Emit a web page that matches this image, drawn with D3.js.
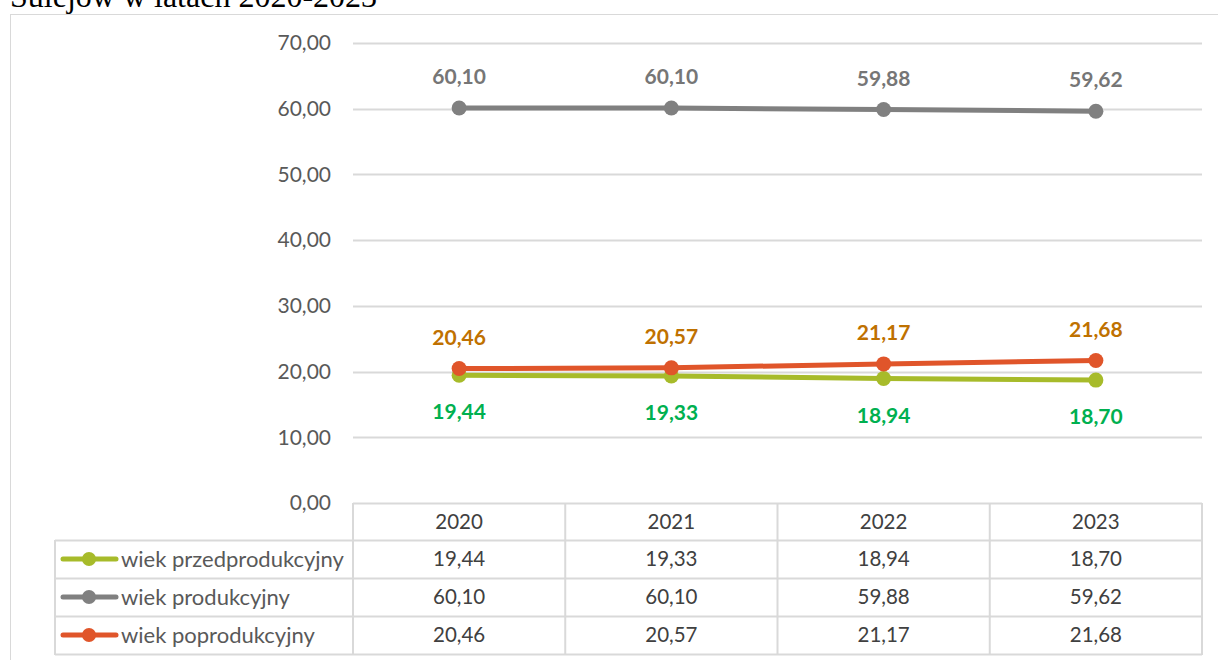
<!DOCTYPE html>
<html>
<head>
<meta charset="utf-8">
<script src="https://cdn.jsdelivr.net/npm/d3@7"></script>
<style>
  body { margin: 0; background: #fff; }
  svg { display: block; }
  text { font-family: Lato, "Open Sans", sans-serif; }
</style>
</head>
<body>
<svg id="chart" width="1218" height="660"></svg>
<script>
// data
let years = ['2020', '2021', '2022', '2023'];
let przedprodukcyjny = [19.44, 19.33, 18.94, 18.70];
let produkcyjny = [60.10, 60.10, 59.88, 59.62];
let poprodukcyjny = [20.46, 20.57, 21.17, 21.68];
let seriesNames = ['wiek przedprodukcyjny', 'wiek produkcyjny', 'wiek poprodukcyjny'];
let yTicks = [0, 10, 20, 30, 40, 50, 60, 70];

let series = [
  { name: seriesNames[0], values: przedprodukcyjny, color: '#a7bb2a', label: '#00b050', pos: 'below' },
  { name: seriesNames[1], values: produkcyjny, color: '#808080', label: '#767676', pos: 'above' },
  { name: seriesNames[2], values: poprodukcyjny, color: '#e0552a', label: '#bf7100', pos: 'above' }
];

let pl = d3.formatLocale({ decimal: ',', thousands: ' ', grouping: [3], currency: ['', ' zł'] });
let fmt = pl.format('.2f');

let plot = { left: 353, right: 1202, top: 43, bottom: 503 };
let rowH = 38;
let headH = 37;
let tableLeft = 55;

let svg = d3.select('#chart');

// chart frame
svg.append('rect')
  .attr('x', 10.5).attr('y', 14.5)
  .attr('width', 1230).attr('height', 700)
  .attr('fill', 'none').attr('stroke', '#d9d9d9').attr('stroke-width', 1);

// title, cut off by the page top as in the source
svg.append('text')
  .attr('x', 10).attr('y', 7)
  .style('font-family', '"Liberation Serif", "Times New Roman", serif')
  .attr('font-size', 32)
  .attr('fill', '#000')
  .text('Sulejów w latach 2020-2023');

let x = d3.scaleBand().domain(years).range([plot.left, plot.right]).paddingInner(0).paddingOuter(0);
let y = d3.scaleLinear().domain([0, 70]).range([plot.bottom, plot.top]);
let cx = d => x(d) + x.bandwidth() / 2;

// grid
svg.append('g').selectAll('line')
  .data(yTicks)
  .enter().append('line')
  .attr('x1', plot.left).attr('x2', plot.right)
  .attr('y1', d => Math.round(y(d)) + 0.5).attr('y2', d => Math.round(y(d)) + 0.5)
  .attr('stroke', '#d9d9d9').attr('stroke-width', 2);

// y labels
svg.append('g').selectAll('text')
  .data(yTicks)
  .enter().append('text')
  .attr('x', 331)
  .attr('y', d => y(d))
  .attr('dy', '0.35em')
  .attr('text-anchor', 'end')
  .attr('font-size', 21)
  .attr('fill', '#595959')
  .text(d => fmt(d));

// lines + markers
let line = d3.line().x((d, i) => cx(years[i])).y(d => y(d));

series.forEach(s => {
  svg.append('path')
    .attr('d', line(s.values))
    .attr('fill', 'none')
    .attr('stroke', s.color)
    .attr('stroke-width', 5)
    .attr('stroke-linecap', 'round');
});
series.forEach(s => {
  svg.append('g').selectAll('circle')
    .data(s.values)
    .enter().append('circle')
    .attr('cx', (d, i) => cx(years[i]))
    .attr('cy', d => y(d))
    .attr('r', 7.5)
    .attr('fill', s.color);
});

// data labels
series.forEach(s => {
  svg.append('g').selectAll('text')
    .data(s.values)
    .enter().append('text')
    .attr('x', (d, i) => cx(years[i]))
    .attr('y', d => s.pos === 'above' ? y(d) - 24 : y(d) + 44)
    .attr('text-anchor', 'middle')
    .attr('font-size', 21)
    .attr('font-weight', 'bold')
    .attr('fill', s.label)
    .text(d => fmt(d));
});

// data table
let tbl = svg.append('g');
let rowTop = i => plot.bottom + headH + i * rowH;
let tableBottom = rowTop(series.length);
let gridCol = '#d9d9d9';

function cellText(g, tx, ty, str) {
  g.append('text')
    .attr('x', tx).attr('y', ty)
    .attr('dy', '0.35em')
    .attr('text-anchor', 'middle')
    .attr('font-size', 20.5)
    .attr('fill', '#404040')
    .text(str);
}

[0, 1, 2, 3].forEach(i => {
  tbl.append('line')
    .attr('x1', tableLeft).attr('x2', plot.right)
    .attr('y1', rowTop(i) + 0.5).attr('y2', rowTop(i) + 0.5)
    .attr('stroke', gridCol).attr('stroke-width', 2);
});
tbl.append('line')
  .attr('x1', tableLeft).attr('x2', tableLeft)
  .attr('y1', rowTop(0)).attr('y2', tableBottom + 1)
  .attr('stroke', gridCol).attr('stroke-width', 2);
tbl.selectAll('.vcol')
  .data(years.map(d => x(d)).concat([plot.right]))
  .enter().append('line')
  .attr('x1', d => d).attr('x2', d => d)
  .attr('y1', plot.bottom).attr('y2', tableBottom + 1)
  .attr('stroke', gridCol).attr('stroke-width', 2);

years.forEach(d => cellText(tbl, cx(d), plot.bottom + headH / 2, d));

series.forEach((s, r) => {
  let mid = rowTop(r) + rowH / 2;
  // legend key
  tbl.append('line')
    .attr('x1', 63).attr('x2', 116)
    .attr('y1', mid).attr('y2', mid)
    .attr('stroke', s.color).attr('stroke-width', 5).attr('stroke-linecap', 'round');
  tbl.append('circle')
    .attr('cx', 89).attr('cy', mid).attr('r', 7)
    .attr('fill', s.color);
  tbl.append('text')
    .attr('x', 121).attr('y', mid)
    .attr('dy', '0.35em')
    .attr('font-size', 22)
    .attr('fill', '#595959')
    .text(s.name);
  s.values.forEach((d, i) => cellText(tbl, cx(years[i]), mid, fmt(d)));
});
</script>
</body>
</html>
